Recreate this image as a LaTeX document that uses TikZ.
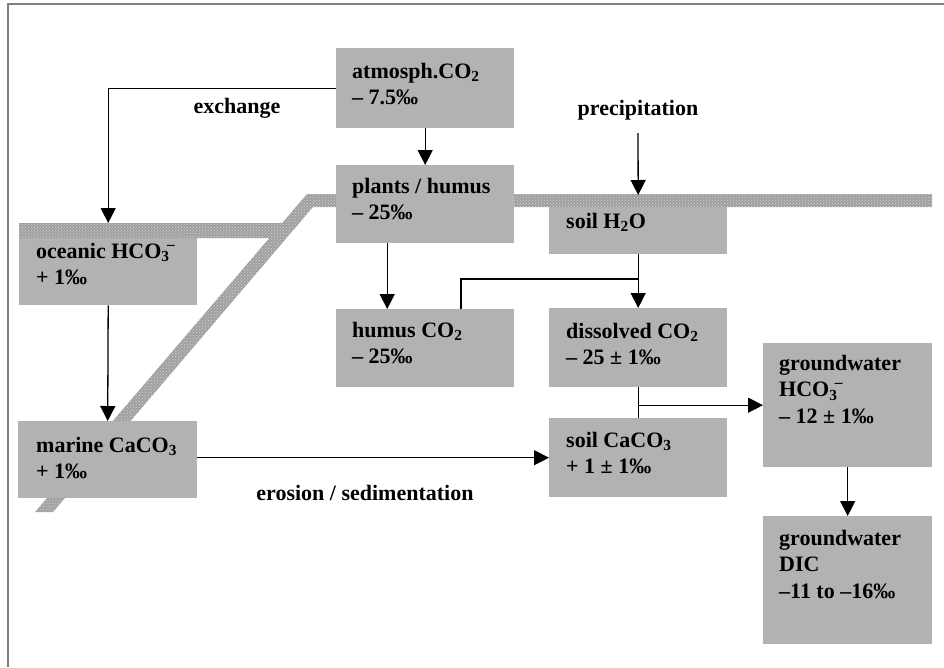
\documentclass[tikz,border=0pt]{standalone}
\usepackage{fontspec}
\setmainfont{Liberation Serif}
\usetikzlibrary{arrows.meta,patterns}
\definecolor{boxgray}{RGB}{178,178,178}
\definecolor{framegray}{RGB}{128,128,128}
\definecolor{bandgray}{RGB}{160,160,160}
\newcommand\myion{\textsubscript{3}\kern-0.12em\raisebox{0.08em}{\textsuperscript{–}}}
\begin{document}
\begin{tikzpicture}[x=1pt,y=-1pt,
  box/.style={fill=boxgray, draw=none, inner sep=0, anchor=north west},
  txt/.style={anchor=north west, align=left, inner sep=0, font=\bfseries\fontsize{22}{26.5}\selectfont},
  lbl/.style={inner sep=0, font=\bfseries\fontsize{22}{26.5}\selectfont},
  conn/.style={line width=1.3pt, black},
  arr/.style={conn, -{Triangle[length=15pt,width=15pt]}},
  band/.style={fill=bandgray, draw=none, postaction={pattern=crosshatch dots, pattern color=white!55!bandgray}}
]
\useasboundingbox (0,0) rectangle (944,667);
% frame
\draw[framegray, line width=2pt] (8,667) -- (8,4) -- (944,4);

% boxes under the band
\node[box, minimum width=178pt, minimum height=82pt] (ocean) at (19,223) {};
\node[box, minimum width=178pt, minimum height=59pt] (soilw) at (549,195) {};

% ground surface band
\fill[band] (19,223) rectangle (286,238)
  (35,512) -- (53,512) -- (324,194) -- (307,194) -- cycle
  (312,194) rectangle (932,207);

% other boxes
\node[box, minimum width=178pt, minimum height=80pt] (atm) at (336,48) {};
\node[box, minimum width=178pt, minimum height=78pt] (plants) at (336,165) {};
\node[box, minimum width=178pt, minimum height=78pt] (humus) at (336,309) {};
\node[box, minimum width=178pt, minimum height=79pt] (diss) at (549,308) {};
\node[box, minimum width=178pt, minimum height=79pt] (soilc) at (549,418) {};
\node[box, minimum width=179pt, minimum height=77pt] (marine) at (18,421) {};
\node[box, minimum width=169pt, minimum height=124pt] (gw) at (763,343) {};
\node[box, minimum width=169pt, minimum height=128pt] (dic) at (763,516) {};

% texts in boxes
\node[txt] (atmT) at ([xshift=16pt,yshift=-15pt]atm.north west) {atmosph.CO\textsubscript{2}\\– 7.5‰};
\node[txt] (plantsT) at ([xshift=16pt,yshift=-13pt]plants.north west) {plants / humus\\– 25‰};
\node[txt] (soilwT) at ([xshift=17pt,yshift=-18pt]soilw.north west) {soil H\textsubscript{2}O};
\node[txt] (oceanT) at ([xshift=17pt,yshift=-20pt]ocean.north west) {oceanic HCO\myion\\+ 1‰};
\node[txt] (humusT) at ([xshift=16pt,yshift=-13pt]humus.north west) {humus CO\textsubscript{2}\\– 25‰};
\node[txt] (dissT) at ([xshift=17pt,yshift=-15pt]diss.north west) {dissolved CO\textsubscript{2}\\– 25 ± 1‰};
\node[txt] (soilcT) at ([xshift=17pt,yshift=-14pt]soilc.north west) {soil CaCO\textsubscript{3}\\+ 1 ± 1‰};
\node[txt] (marineT) at ([xshift=18pt,yshift=-16pt]marine.north west) {marine CaCO\textsubscript{3}\\+ 1‰};
\node[txt] (gwT) at ([xshift=16pt,yshift=-12pt]gw.north west) {groundwater\\HCO\myion\\– 12 ± 1‰};
\node[txt] (dicT) at ([xshift=16pt,yshift=-14pt]dic.north west) {groundwater\\DIC\\–11 to –16‰};

% free labels
\node[lbl] (exch) at (237,108) {exchange};
\node[lbl] (precip) at (638,110) {precipitation};
\node[lbl] (eros) at (365,493) {erosion / sedimentation};

% connectors
\coordinate (pstart) at (638,133);
\coordinate (j1) at (638,279);
\coordinate (hj) at (461,309);
\draw[arr] (atm.south) -- (plants.north);
\draw[arr] (atm.west) -| (ocean.north);
\draw[arr] (pstart) -- (soilw.north);
\draw[arr] ([xshift=-38pt]plants.south) -- ([xshift=-38pt]humus.north);
\draw[arr] (soilw.south) -- (diss.north);
\draw[conn] (j1) -| (hj);
\draw[conn] (diss.south) -- (soilc.north);
\draw[arr] (diss.south |- gw.west) -- (gw.west);
\draw[arr] (marine.east |- soilc.west) -- (soilc.west);
\draw[arr] (ocean.south) -- (marine.north);
\draw[arr] (gw.south) -- (dic.north);
\end{tikzpicture}
\end{document}
